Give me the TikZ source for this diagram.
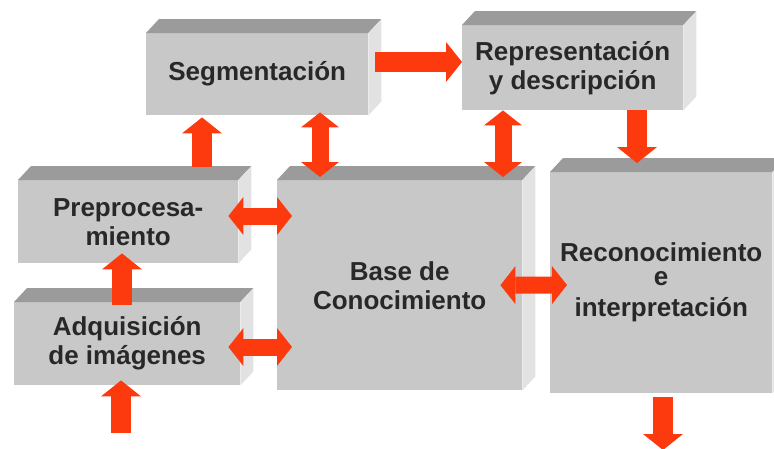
\documentclass[tikz,border=0pt]{standalone}
\usepackage{fontspec}
\setsansfont{Liberation Sans}
\usetikzlibrary{calc,arrows.meta}
\definecolor{frontgray}{RGB}{200,200,200}
\definecolor{topgray}{RGB}{155,155,155}
\definecolor{sidegray}{RGB}{226,226,226}
\definecolor{arrowred}{RGB}{252,58,14}
\definecolor{textgray}{RGB}{40,40,40}
\tikzset{
  front/.style={rectangle, fill=frontgray, inner sep=0pt, anchor=north west, align=center,
    text=textgray, font=\sffamily\bfseries\fontsize{26}{29}\selectfont},
  onearrow/.style={arrowred, line width=20pt, -{Triangle[width=40pt,length=16pt,line width=0pt]}},
  twoarrow/.style={arrowred, line width=17pt,
    {Triangle[width=38pt,length=15pt,line width=0pt]}-{Triangle[width=38pt,length=15pt,line width=0pt]}},
}
\def\faces(#1){%
  \fill[topgray] (#1.north west) -- ++(13,-14) -- ($(#1.north east)+(13,-14)$) -- (#1.north east) -- cycle;
  \fill[sidegray] (#1.north east) -- ++(13,-14) -- ($(#1.south east)+(13,-14)$) -- (#1.south east) -- cycle;}

\begin{document}
\begin{tikzpicture}[x=1pt,y=-1pt]
		%%%%% START %%%%%
		\useasboundingbox (0,0) rectangle (774,448);
		
		\node[front, minimum width=222pt, minimum height=82pt] (seg) at (146,33) {Segmentación};
		\faces(seg)
		\node[front, minimum width=221pt, minimum height=85pt] (rep) at (462,25) {Representación\\y descripción};
		\faces(rep)
		
		\node[front, minimum width=220pt, minimum height=83pt] (prep) at (18,180) {Preprocesa-\\miento};
		\faces(prep)
		\node[front, minimum width=226pt, minimum height=83pt] (adq) at (14,302) {Adquisición\\de imágenes};
		\faces(adq)
		
		\node[front, minimum width=245pt, minimum height=210pt] (base) at (277,180) {Base de\\Conocimiento};
		\faces(base)
		\node[front, minimum width=222pt, minimum height=221pt] (rec) at (550,172) {Reconocimiento\\[-5pt]e\\[2pt]interpretación};
		\faces(rec)
		
		\coordinate (in) at (121,433);
		\coordinate (out) at (663,450);
		
		% single arrows
		\draw[onearrow] ($(seg.north east)+(7,29)$) -- ($(rep.north west)+(0,37)$);
		\draw[onearrow] ($(prep.north west)+(184,-13)$) -- ($(seg.south west)+(56,2)$);
		\draw[onearrow] ($(rep.south west)+(175,0)$) -- ($(rec.north west)+(87,-9)$);
		\draw[onearrow] ($(adq.north west)+(108,3)$) -- ($(prep.south west)+(104,-10)$);
		\draw[onearrow] (in) -- ($(adq.south west)+(107,-5)$);
		\draw[onearrow] ($(rec.south west)+(113,4)$) -- (out);
		
		% double arrows
		\draw[twoarrow] ($(seg.south west)+(174,-3)$) -- ($(base.north west)+(43,-3)$);
		\draw[twoarrow] ($(rep.south west)+(41,0)$) -- ($(base.north west)+(226,-3)$);
		\draw[twoarrow] ($(prep.north east)+(-10,36)$) -- ($(base.north west)+(15,36)$);
		\draw[twoarrow] ($(adq.north east)+(-12,45)$) -- ($(base.north west)+(15,167)$);
		\draw[twoarrow] ($(base.east)+(-22,0)$) -- ($(rec.north west)+(17,113)$);
		
		%%%%% END %%%%%
\end{tikzpicture}
\end{document}
